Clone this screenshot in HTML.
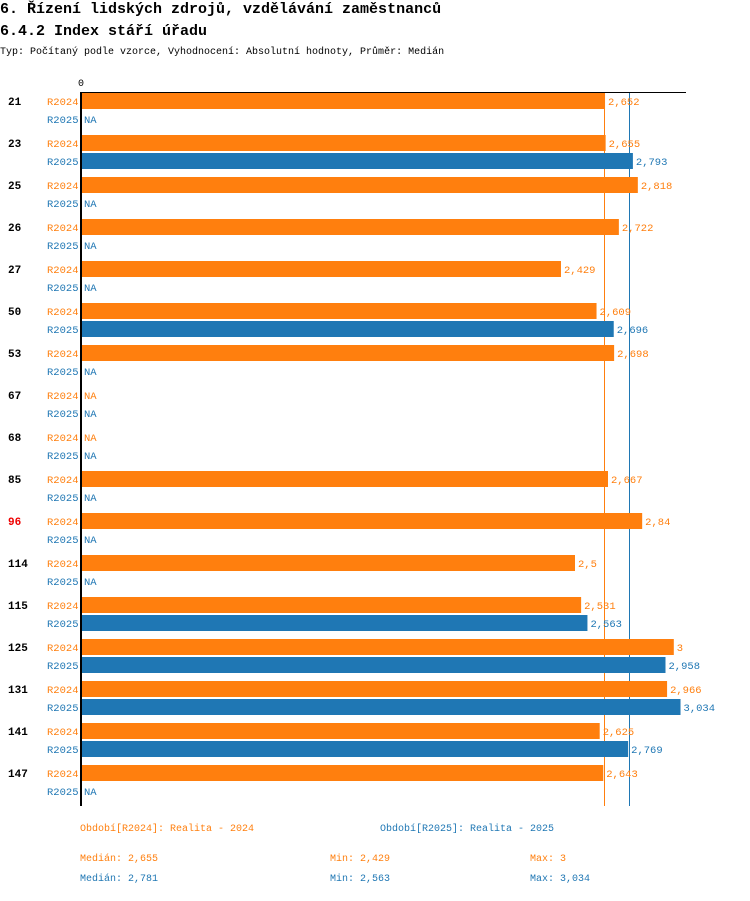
<!DOCTYPE html>
<html><head><meta charset="utf-8"><style>
body{margin:0;background:#fff;width:750px;height:896px;overflow:hidden;font-family:"Liberation Mono",monospace}
svg text{font-family:"Liberation Mono",monospace}
</style></head><body>
<svg id="c" width="750" height="896">
<text x="0" y="13" font-size="15" font-weight="bold">6. Řízení lidských zdrojů, vzdělávání zaměstnanců</text>
<text x="0" y="35" font-size="15" font-weight="bold">6.4.2 Index stáří úřadu</text>
<text x="0" y="54" font-size="10">Typ: Počítaný podle vzorce, Vyhodnocení: Absolutní hodnoty, Průměr: Medián</text>
<text x="78" y="86" font-size="10">0</text>
<g id="m"></g>
<g id="g"></g>
<line x1="80" y1="92.5" x2="686" y2="92.5" stroke="#000" stroke-width="1"/>
<line x1="81" y1="92" x2="81" y2="806" stroke="#000" stroke-width="2"/>
<text x="80" y="831" font-size="10" fill="#ff7f0e">Období[R2024]: Realita - 2024</text>
<text x="380" y="831" font-size="10" fill="#1f77b4">Období[R2025]: Realita - 2025</text>
<text x="80" y="861" font-size="10" fill="#ff7f0e">Medián: 2,655</text>
<text x="330" y="861" font-size="10" fill="#ff7f0e">Min: 2,429</text>
<text x="530" y="861" font-size="10" fill="#ff7f0e">Max: 3</text>
<text x="80" y="881" font-size="10" fill="#1f77b4">Medián: 2,781</text>
<text x="330" y="881" font-size="10" fill="#1f77b4">Min: 2,563</text>
<text x="530" y="881" font-size="10" fill="#1f77b4">Max: 3,034</text>
</svg>
<script>
const categories=["21","23","25","26","27","50","53","67","68","85","96","114","115","125","131","141","147"];
const r2024=[2.652,2.655,2.818,2.722,2.429,2.609,2.698,null,null,2.667,2.84,2.5,2.531,3,2.966,2.625,2.643];
const r2025=[null,2.793,null,null,null,2.696,null,null,null,null,null,null,2.563,2.958,3.034,2.769,null];
const medians=[2.655,2.781];
const highlight=["96"];
const NS="http://www.w3.org/2000/svg";
const g=document.getElementById('g');
const mg=document.getElementById('m');
const X0=81,SC=197.6;
const x=v=>X0+v*SC;
const gy=i=>101+42*i;
function el(t,a,p){const e=document.createElementNS(NS,t);for(const k in a)e.setAttribute(k,a[k]);(p||g).appendChild(e);return e;}
const cols=["#ff7f0e","#1f77b4"];
const fmt=v=>String(v).replace('.',',');
medians.forEach((m,k)=>{
  const l=el('line',{x1:Math.round(x(m))-1.5,x2:Math.round(x(m))-1.5,y1:92,y2:806,stroke:cols[k],'stroke-width':1},mg);
  
  
});
categories.forEach((c,i)=>{
  const t=el('text',{x:8,y:gy(i)+4,'font-size':11,'font-weight':'bold',fill:highlight.includes(c)?'#e00':'#000'});
  t.textContent=c;
  
  
  [r2024,r2025].forEach((s,k)=>{
    const cy=gy(i)+18*k;
    const l=el('text',{x:47,y:cy+4,'font-size':10.5,fill:cols[k]});
    l.textContent=k?'R2025':'R2024';
    
    
    const v=s[i];
    if(v!=null){
      const b=el('rect',{x:X0,y:cy-8,width:x(v)-X0,height:16,fill:cols[k]});
      
      
    }
    const vt=el('text',{x:(v!=null?x(v):X0)+3,y:cy+4,'font-size':10.5,fill:cols[k]});
    vt.textContent=v!=null?fmt(v):'NA';
    
    
  });
});
</script>
</body></html>
